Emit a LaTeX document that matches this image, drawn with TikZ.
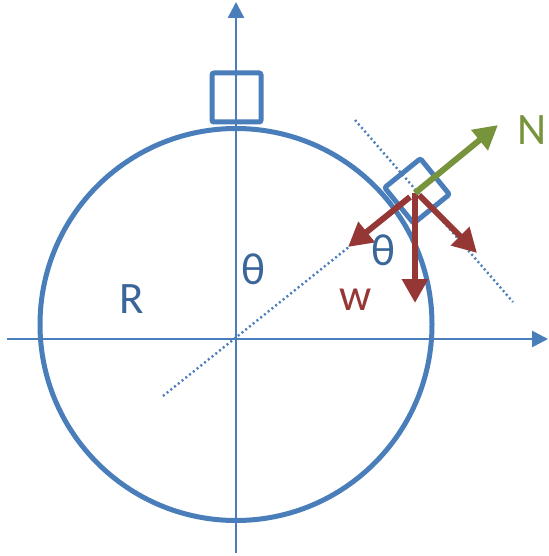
\documentclass[tikz,border=0pt]{standalone}
\usepackage{fontspec}
\setmainfont{Carlito}
\usetikzlibrary{arrows.meta}
\definecolor{lineblue}{HTML}{4A7EBB}
\definecolor{textblue}{HTML}{3A6699}
\definecolor{forcered}{HTML}{953735}
\definecolor{forcegreen}{HTML}{77933C}
\tikzset{
  axis/.style={draw=lineblue, line width=2.7pt, -{Triangle[length=16pt,width=16pt]}},
  rim/.style={draw=lineblue, line width=5pt, circle, inner sep=0pt, minimum size=392pt},
  blockbox/.style={draw=lineblue, line width=5pt, inner sep=0pt, rounded corners=2pt},
  guide/.style={draw=lineblue, line width=2.4pt, dash pattern=on 2pt off 2.8pt},
  force/.style={line width=6pt, -{Triangle[length=24pt,width=25pt]}},
  lbl/.style={font=\fontsize{45}{54}\selectfont, inner sep=0pt}
}
\begin{document}
\begin{tikzpicture}[x=1pt,y=1pt]
\useasboundingbox (0,0) rectangle (548,-556);
% axes
\coordinate (xstart) at (7,-339);
\coordinate (xend) at (548,-339);
\coordinate (ystart) at (236,-553);
\coordinate (yend) at (236,-2);
\draw[axis] (xstart) -- (xend);
\draw[axis] (ystart) -- (yend);
% circle
\node[rim] (circ) at (236,-324.5) {};
% dotted guides
\coordinate (radA) at (163,-396);
\coordinate (radB) at (350,-246);
\draw[guide] (radA) -- (radB);
\coordinate (tanA) at (355,-120);
\coordinate (tanB) at (513,-302);
\draw[guide] (tanA) -- (tanB);
% boxes
\node[blockbox, minimum size=49pt] (topbox) at (236.5,-97.5) {};
\node[blockbox, minimum size=46pt, rotate=39] (slidebox) at (417,-191) {};
% forces
\coordinate (F) at (415,-193);
\coordinate (Fl) at (410,-197);
\coordinate (Fr) at (419,-195);
\coordinate (Ntip) at (498,-125);
\coordinate (Wtip) at (415,-303);
\coordinate (Ltip) at (348,-247);
\coordinate (Rtip) at (477,-253);
\draw[force, draw=forcered, fill=forcered] (F) -- (Wtip);
\draw[force, draw=forcered, fill=forcered] (Fl) -- (Ltip);
\draw[force, draw=forcered, fill=forcered] (Fr) -- (Rtip);
\draw[force, draw=forcegreen, fill=forcegreen] (F) -- (Ntip);
% labels
\node[lbl, text=forcegreen] (nlabel) at (532,-130) {N};
\node[lbl, text=textblue] (theta1) at (383,-250) {θ};
\node[lbl, text=forcered] (wlabel) at (356,-300) {w};
\node[lbl, text=textblue] (theta2) at (253,-269) {θ};
\node[lbl, text=textblue] (rlabel) at (132,-299) {R};
\end{tikzpicture}
\end{document}
